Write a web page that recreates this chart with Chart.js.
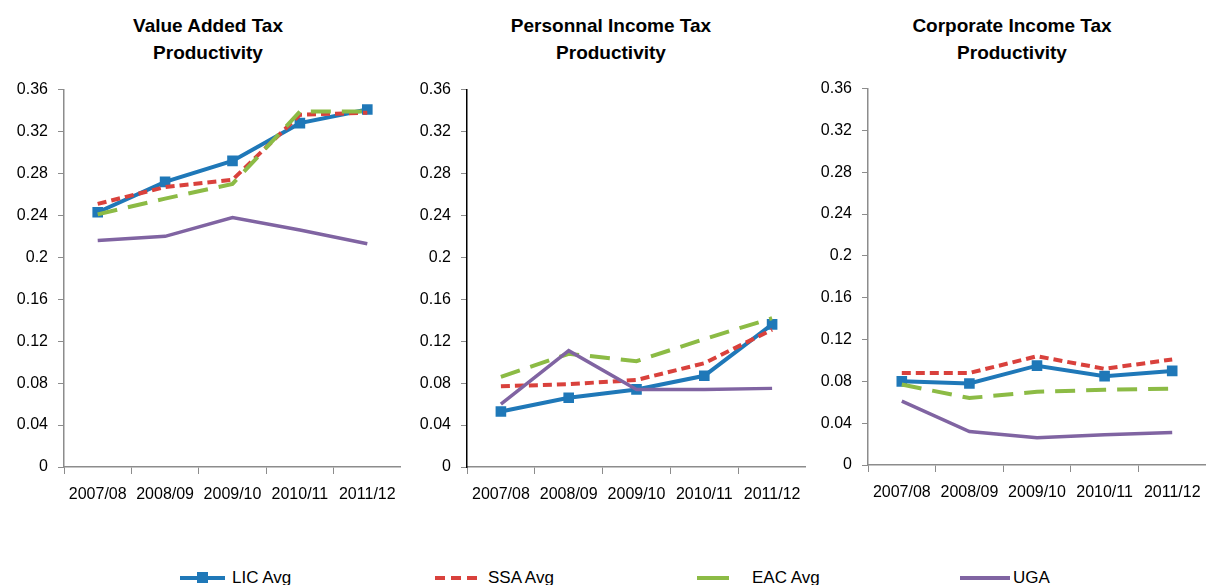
<!DOCTYPE html>
<html>
<head>
<meta charset="utf-8">
<script src="https://cdn.jsdelivr.net/npm/chart.js@4"></script>
<style>
  body { margin:0; background:#fff; width:1206px; height:585px; overflow:hidden; position:relative; font-family:"Liberation Sans", Arial, sans-serif; }
  .box { position:absolute; }
  .title { position:absolute; width:300px; text-align:center; font-weight:bold; font-size:19px; line-height:27px; color:#000; }
  .leg { position:absolute; top:568px; font-size:17px; color:#000; white-space:nowrap; }
  .leg .ln { position:absolute; top:8px; height:4px; }
</style>
</head>
<body>
<div class="title" style="left:58px;top:12px">Value Added Tax<br>Productivity</div>
<div class="title" style="left:461px;top:12px">Personnal Income Tax<br>Productivity</div>
<div class="title" style="left:862px;top:12px">Corporate Income Tax<br>Productivity</div>

<div class="box" style="left:0;top:70px;width:401px;height:447px"><canvas id="vatChart"></canvas></div>
<div class="box" style="left:400px;top:70px;width:406px;height:447px"><canvas id="pitChart"></canvas></div>
<div class="box" style="left:805px;top:69px;width:401px;height:446px"><canvas id="citChart"></canvas></div>

<div class="leg" style="left:180px"><span class="ln" style="left:0;width:45px;background:#1f78b8"></span><span class="ln" style="left:17px;top:4px;width:11px;height:11px;background:#1f78b8"></span><span style="position:absolute;left:52px">LIC Avg</span></div>
<div class="leg" style="left:435px"><span class="ln" style="left:0;width:43px;background:repeating-linear-gradient(90deg,#d9413c 0 10px,transparent 10px 16px)"></span><span style="position:absolute;left:53px">SSA Avg</span></div>
<div class="leg" style="left:697px"><span class="ln" style="left:0;width:32px;background:#8cbb45"></span><span style="position:absolute;left:55px">EAC Avg</span></div>
<div class="leg" style="left:960px"><span class="ln" style="left:0;width:50px;background:#8064a2"></span><span style="position:absolute;left:53px">UGA</span></div>

<script>
const categories = ['2007/08', '2008/09', '2009/10', '2010/11', '2011/12'];
const yMin = 0, yMax = 0.36, yStep = 0.04;

// Value Added Tax productivity
const vatLic = [0.243, 0.272, 0.292, 0.328, 0.341];
const vatSsa = [0.251, 0.267, 0.274, 0.336, 0.338];
const vatEac = [0.241, 0.256, 0.270, 0.339, 0.339];
const vatUga = [0.216, 0.220, 0.238, 0.226, 0.213];

// Personnal Income Tax productivity
const pitLic = [0.053, 0.066, 0.074, 0.087, 0.136];
const pitSsa = [0.077, 0.079, 0.083, 0.099, 0.131];
const pitEac = [0.086, 0.108, 0.101, 0.122, 0.142];
const pitUga = [0.060, 0.111, 0.074, 0.074, 0.075];

// Corporate Income Tax productivity
const citLic = [0.080, 0.078, 0.095, 0.085, 0.090];
const citSsa = [0.088, 0.088, 0.104, 0.092, 0.101];
const citEac = [0.077, 0.064, 0.070, 0.072, 0.073];
const citUga = [0.061, 0.032, 0.026, 0.029, 0.031];

const BLUE = '#1f78b8', RED = '#d9413c', GREEN = '#8cbb45', PURPLE = '#8064a2';

function makeDatasets(lic, ssa, eac, uga) {
  return [
    { label: 'UGA', data: uga, borderColor: PURPLE, borderWidth: 3.5, pointRadius: 0 },
    { label: 'EAC Avg', data: eac, borderColor: GREEN, borderWidth: 4, borderDash: [20, 11], pointRadius: 0 },
    { label: 'SSA Avg', data: ssa, borderColor: RED, borderWidth: 4, borderDash: [9, 5], pointRadius: 0 },
    { label: 'LIC Avg', data: lic, borderColor: BLUE, borderWidth: 4, pointStyle: 'rect',
      pointRadius: 7.5, pointBackgroundColor: BLUE, pointBorderColor: BLUE, pointBorderWidth: 0 },
  ];
}

function makeChart(id, datasets, yWidth, yAxisColor) {
  return new Chart(document.getElementById(id), {
    type: 'line',
    data: { labels: categories, datasets: datasets },
    options: {
      responsive: true,
      maintainAspectRatio: false,
      animation: false,
      layout: { autoPadding: false, padding: { top: 17, right: 0, bottom: 0, left: 0 } },
      plugins: { legend: { display: false }, tooltip: { enabled: false } },
      elements: { line: { tension: 0, borderCapStyle: 'butt' } },
      scales: {
        x: {
          offset: true,
          grid: { drawOnChartArea: false, drawTicks: true, tickLength: 7, color: '#8c8c8c', offset: true },
          border: { color: '#8c8c8c', width: 1.5 },
          ticks: { color: '#000', font: { family: 'Liberation Sans', size: 16 }, padding: 11, maxRotation: 0, autoSkip: false },
          afterFit: s => { s.height = 50; s.paddingLeft = 0; s.paddingRight = 0; }
        },
        y: {
          min: yMin, max: yMax,
          grid: { drawOnChartArea: false, drawTicks: true, tickLength: 6, color: '#8c8c8c' },
          border: { color: yAxisColor, width: 1.5 },
          ticks: { stepSize: yStep, color: '#000', font: { family: 'Liberation Sans', size: 16 }, padding: 10,
            callback: v => String(Number(v.toFixed(2))) },
          afterFit: s => { s.width = yWidth; }
        }
      }
    }
  });
}

makeChart('vatChart', makeDatasets(vatLic, vatSsa, vatEac, vatUga), 64, '#8c8c8c');
makeChart('pitChart', makeDatasets(pitLic, pitSsa, pitEac, pitUga), 67, '#000');
makeChart('citChart', makeDatasets(citLic, citSsa, citEac, citUga), 63, '#8c8c8c');
</script>
</body>
</html>
